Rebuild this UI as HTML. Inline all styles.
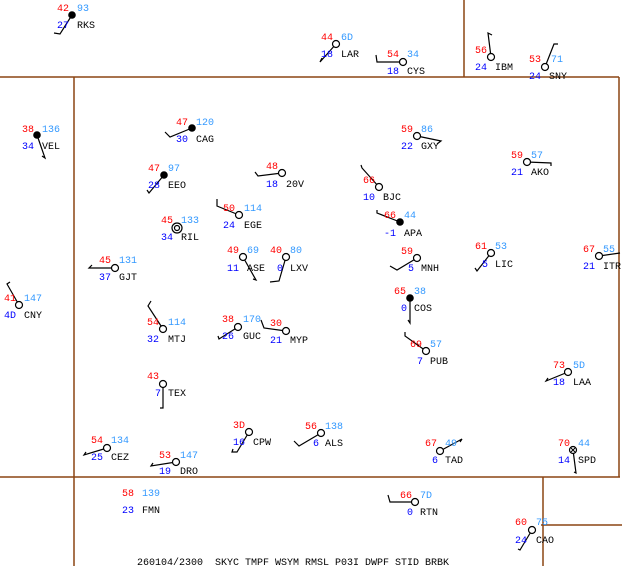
<!DOCTYPE html>
<html><head><meta charset="utf-8"><style>
html,body{margin:0;padding:0;background:#fff;}
svg{display:block;}
text{font-family:"Liberation Mono",monospace;font-size:10px;}
.r{fill:#ff0000}.l{fill:#3399ff}.b{fill:#0000ff}.k{fill:#000}
</style></head><body>
<svg width="622" height="566" viewBox="0 0 622 566" xmlns="http://www.w3.org/2000/svg">
<g stroke="#8b4513" stroke-width="1.5" fill="none">
<line x1="0" y1="77" x2="619" y2="77"/>
<line x1="464" y1="0" x2="464" y2="77"/>
<line x1="74" y1="77" x2="74" y2="566"/>
<line x1="619" y1="77" x2="619" y2="477"/>
<line x1="0" y1="477" x2="620" y2="477"/>
<line x1="543" y1="477" x2="543" y2="566"/>
<line x1="541" y1="525" x2="622" y2="525"/>
</g>
<g stroke="#000" stroke-width="1.2" fill="none">
<!-- staffs and barbs -->
<polyline points="72,15 60,34 54,33"/>
<polyline points="336,44 320,62 322,58"/>
<polyline points="403,62 377,62 376,55"/>
<polyline points="491,57 488,33 492,35"/>
<polyline points="545,67 554,44 558,44"/>
<polyline points="37,135 45,158 42,156"/>
<polyline points="192,128 170,137 165,132"/>
<polyline points="164,175 149,193 147,190"/>
<polyline points="282,173 258,176 255,172"/>
<polyline points="239,215 217,206 217,199"/>
<polyline points="379,187 362,168 361,165"/>
<polyline points="417,136 441,141 437,144"/>
<polyline points="527,162 551,163 551,166"/>
<polyline points="400,222 377,213 377,210"/>
<polyline points="115,268 89,268 92,265"/>
<polyline points="243,257 256,280 253,279"/>
<polyline points="286,257 279,281 270,282"/>
<polyline points="19,305 7,284 10,282"/>
<polyline points="417,258 397,270 390,266"/>
<polyline points="491,253 477,271 475,268"/>
<polyline points="599,256 620,253"/>
<polyline points="410,298 410,323 408,320"/>
<polyline points="163,329 148,306 151,301"/>
<polyline points="238,327 219,339 218,336"/>
<polyline points="286,331 264,328 261,320"/>
<polyline points="426,351 405,336 405,332"/>
<polyline points="163,384 163,408 160,408"/>
<polyline points="568,372 546,381 548,378"/>
<polyline points="107,448 84,455 86,452"/>
<polyline points="176,462 151,466 153,463"/>
<polyline points="249,432 237,452 232,452 233,449"/>
<polyline points="321,433 299,446 294,441"/>
<polyline points="440,451 462,439 460,442"/>
<polyline points="573,450 576,473 574,472"/>
<polyline points="415,502 390,502 388,495"/>
<polyline points="532,530 520,550 518,549"/>
</g>
<g stroke="#000" stroke-width="1.2" fill="#fff">
<circle cx="336" cy="44" r="3.5"/><circle cx="403" cy="62" r="3.5"/>
<circle cx="491" cy="57" r="3.5"/><circle cx="545" cy="67" r="3.5"/>
<circle cx="282" cy="173" r="3.5"/><circle cx="239" cy="215" r="3.5"/>
<circle cx="379" cy="187" r="3.5"/><circle cx="417" cy="136" r="3.5"/>
<circle cx="527" cy="162" r="3.5"/><circle cx="115" cy="268" r="3.5"/>
<circle cx="243" cy="257" r="3.5"/><circle cx="286" cy="257" r="3.5"/>
<circle cx="19" cy="305" r="3.5"/><circle cx="417" cy="258" r="3.5"/>
<circle cx="491" cy="253" r="3.5"/><circle cx="599" cy="256" r="3.5"/>
<circle cx="163" cy="329" r="3.5"/><circle cx="238" cy="327" r="3.5"/>
<circle cx="286" cy="331" r="3.5"/><circle cx="426" cy="351" r="3.5"/>
<circle cx="163" cy="384" r="3.5"/><circle cx="568" cy="372" r="3.5"/>
<circle cx="107" cy="448" r="3.5"/><circle cx="176" cy="462" r="3.5"/>
<circle cx="249" cy="432" r="3.5"/><circle cx="321" cy="433" r="3.5"/>
<circle cx="440" cy="451" r="3.5"/><circle cx="415" cy="502" r="3.5"/>
<circle cx="532" cy="530" r="3.5"/>
<circle cx="177" cy="228" r="5"/><circle cx="177" cy="228" r="2.5"/>
<circle cx="573" cy="450" r="3.5"/>
</g>
<g stroke="#000" stroke-width="1"><line x1="571" y1="448" x2="575" y2="452"/><line x1="575" y1="448" x2="571" y2="452"/></g>
<g fill="#000"><circle cx="72" cy="15" r="3.8"/><circle cx="37" cy="135" r="3.8"/><circle cx="192" cy="128" r="3.8"/><circle cx="164" cy="175" r="3.8"/><circle cx="400" cy="222" r="3.8"/><circle cx="410" cy="298" r="3.8"/></g>
<g>
<text class="r" x="57" y="11">42</text><text class="l" x="77" y="11">93</text><text class="b" x="57" y="28">27</text><text class="k" x="77" y="28">RKS</text>
<text class="r" x="321" y="40">44</text><text class="l" x="341" y="40">6D</text><text class="b" x="321" y="57">18</text><text class="k" x="341" y="57">LAR</text>
<text class="r" x="387" y="57">54</text><text class="l" x="407" y="57">34</text><text class="b" x="387" y="74">18</text><text class="k" x="407" y="74">CYS</text>
<text class="r" x="475" y="53">56</text><text class="b" x="475" y="70">24</text><text class="k" x="495" y="70">IBM</text>
<text class="r" x="529" y="62">53</text><text class="l" x="551" y="62">71</text><text class="b" x="529" y="79">24</text><text class="k" x="549" y="79">SNY</text>
<text class="r" x="22" y="132">38</text><text class="l" x="42" y="132">136</text><text class="b" x="22" y="149">34</text><text class="k" x="42" y="149">VEL</text>
<text class="r" x="176" y="125">47</text><text class="l" x="196" y="125">120</text><text class="b" x="176" y="142">30</text><text class="k" x="196" y="142">CAG</text>
<text class="r" x="148" y="171">47</text><text class="l" x="168" y="171">97</text><text class="b" x="148" y="188">28</text><text class="k" x="168" y="188">EEO</text>
<text class="r" x="266" y="169">48</text><text class="b" x="266" y="187">18</text><text class="k" x="286" y="187">20V</text>
<text class="r" x="223" y="211">50</text><text class="l" x="244" y="211">114</text><text class="b" x="223" y="228">24</text><text class="k" x="244" y="228">EGE</text>
<text class="r" x="161" y="223">45</text><text class="l" x="181" y="223">133</text><text class="b" x="161" y="240">34</text><text class="k" x="181" y="240">RIL</text>
<text class="r" x="363" y="183">66</text><text class="b" x="363" y="200">10</text><text class="k" x="383" y="200">BJC</text>
<text class="r" x="401" y="132">59</text><text class="l" x="421" y="132">86</text><text class="b" x="401" y="149">22</text><text class="k" x="421" y="149">GXY</text>
<text class="r" x="511" y="158">59</text><text class="l" x="531" y="158">57</text><text class="b" x="511" y="175">21</text><text class="k" x="531" y="175">AKO</text>
<text class="r" x="384" y="218">66</text><text class="l" x="404" y="218">44</text><text class="b" x="384" y="236">-1</text><text class="k" x="404" y="236">APA</text>
<text class="r" x="99" y="263">45</text><text class="l" x="119" y="263">131</text><text class="b" x="99" y="280">37</text><text class="k" x="119" y="280">GJT</text>
<text class="r" x="227" y="253">49</text><text class="l" x="247" y="253">69</text><text class="b" x="227" y="271">11</text><text class="k" x="247" y="271">ASE</text>
<text class="r" x="270" y="253">40</text><text class="l" x="290" y="253">80</text><text class="b" x="277" y="271">0</text><text class="k" x="290" y="271">LXV</text>
<text class="r" x="4" y="301">41</text><text class="l" x="24" y="301">147</text><text class="b" x="4" y="318">4D</text><text class="k" x="24" y="318">CNY</text>
<text class="r" x="401" y="254">59</text><text class="b" x="408" y="271">5</text><text class="k" x="421" y="271">MNH</text>
<text class="r" x="475" y="249">61</text><text class="l" x="495" y="249">53</text><text class="b" x="482" y="267">5</text><text class="k" x="495" y="267">LIC</text>
<text class="r" x="583" y="252">67</text><text class="l" x="603" y="252">55</text><text class="b" x="583" y="269">21</text><text class="k" x="603" y="269">ITR</text>
<text class="r" x="394" y="294">65</text><text class="l" x="414" y="294">38</text><text class="b" x="401" y="311">0</text><text class="k" x="414" y="311">COS</text>
<text class="r" x="147" y="325">54</text><text class="l" x="168" y="325">114</text><text class="b" x="147" y="342">32</text><text class="k" x="168" y="342">MTJ</text>
<text class="r" x="222" y="322">38</text><text class="l" x="243" y="322">170</text><text class="b" x="222" y="339">26</text><text class="k" x="243" y="339">GUC</text>
<text class="r" x="270" y="326">30</text><text class="b" x="270" y="343">21</text><text class="k" x="290" y="343">MYP</text>
<text class="r" x="410" y="347">69</text><text class="l" x="430" y="347">57</text><text class="b" x="417" y="364">7</text><text class="k" x="430" y="364">PUB</text>
<text class="r" x="147" y="379">43</text><text class="b" x="155" y="396">7</text><text class="k" x="168" y="396">TEX</text>
<text class="r" x="553" y="368">73</text><text class="l" x="573" y="368">5D</text><text class="b" x="553" y="385">18</text><text class="k" x="573" y="385">LAA</text>
<text class="r" x="91" y="443">54</text><text class="l" x="111" y="443">134</text><text class="b" x="91" y="460">25</text><text class="k" x="111" y="460">CEZ</text>
<text class="r" x="159" y="458">53</text><text class="l" x="180" y="458">147</text><text class="b" x="159" y="474">19</text><text class="k" x="180" y="474">DRO</text>
<text class="r" x="233" y="428">3D</text><text class="b" x="233" y="445">16</text><text class="k" x="253" y="445">CPW</text>
<text class="r" x="305" y="429">56</text><text class="l" x="325" y="429">138</text><text class="b" x="313" y="446">6</text><text class="k" x="325" y="446">ALS</text>
<text class="r" x="425" y="446">67</text><text class="l" x="445" y="446">49</text><text class="b" x="432" y="463">6</text><text class="k" x="445" y="463">TAD</text>
<text class="r" x="558" y="446">70</text><text class="l" x="578" y="446">44</text><text class="b" x="558" y="463">14</text><text class="k" x="578" y="463">SPD</text>
<text class="r" x="400" y="498">66</text><text class="l" x="420" y="498">7D</text><text class="b" x="407" y="515">0</text><text class="k" x="420" y="515">RTN</text>
<text class="r" x="122" y="496">58</text><text class="l" x="142" y="496">139</text><text class="b" x="122" y="513">23</text><text class="k" x="142" y="513">FMN</text>
<text class="r" x="515" y="525">60</text><text class="l" x="536" y="525">75</text><text class="b" x="515" y="543">24</text><text class="k" x="536" y="543">CAO</text>
<text class="k" x="137" y="565" xml:space="preserve">260104/2300  SKYC TMPF WSYM RMSL P03I DWPF STID BRBK</text>
</g>
</svg>
</body></html>
